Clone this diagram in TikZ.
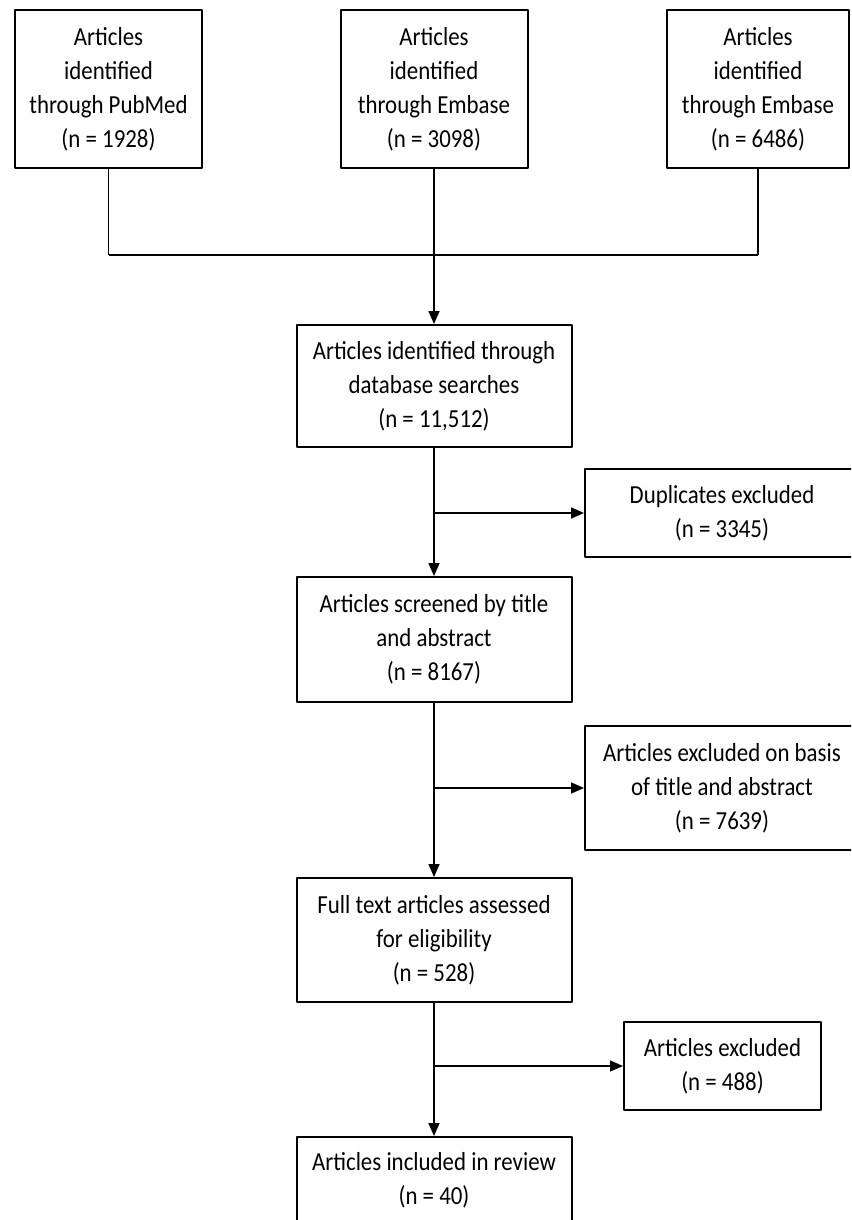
\documentclass[tikz,border=0pt]{standalone}
\usepackage{fontspec}
\setmainfont[FakeStretch=0.88]{Carlito}
\usetikzlibrary{arrows.meta}
\begin{document}
\begin{tikzpicture}[x=0.5pt,y=-0.5pt,line join=round,>={Triangle[length=6.5pt,width=5.5pt]},
	box/.style={draw,line width=1pt,align=center,inner sep=0pt,font=\fontsize{13}{17}\selectfont},
	src/.style={box,minimum width=93.5pt,minimum height=79pt},
	main/.style={box,minimum width=137.5pt,minimum height=62pt},
	side/.style={box,minimum width=137pt,minimum height=44pt},
	link/.style={line width=0.8pt}]
	\useasboundingbox (0,0) rectangle (851,1220);
	\clip (0,0) rectangle (851,1220);
	% sources
	\node[src] (pubmed) at (108.5,89) {Articles\\identified\\through PubMed\\(n = 1928)};
	\node[src] (embase) at (434,89) {Articles\\identified\\through Embase\\(n = 3098)};
	\node[src,minimum width=91pt] (embase2) at (758,89) {Articles\\identified\\through Embase\\(n = 6486)};
	% main column
	\node[main,minimum height=61pt] (ident) at (434,386) {Articles identified through\\database searches\\(n = 11,512)};
	\node[main,minimum height=62.5pt] (screen) at (434,639.5) {Articles screened by title\\and abstract\\(n = 8167)};
	\node[main] (fulltext) at (434,940) {Full text articles assessed\\for eligibility\\(n = 528)};
	\node[main,minimum height=43pt] (review) at (434,1180) {Articles included in review\\(n = 40)};
	% exclusions
	\node[side] (dupl) at (722,513) {Duplicates excluded\\(n = 3345)};
	\node[side,minimum height=62pt] (excl) at (722,788) {Articles excluded on basis\\of title and abstract\\(n = 7639)};
	\node[side,minimum width=98.5pt] (excl2) at (722.5,1066) {Articles excluded\\(n = 488)};
	% connectors
	\coordinate (hub) at (434,255);
	\draw[link] (pubmed.south) -- (pubmed.south |- hub);
	\draw[link] (embase2.south) -- (embase2.south |- hub);
	\draw[link,line width=1.2pt] (pubmed.south |- hub) -- (embase2.south |- hub);
	\draw[link] (embase.south) -- (hub);
	\draw[link,->] (hub) -- (ident.north);
	\draw[link,->] (ident) -- (screen);
	\draw[link,->] (ident.south |- dupl.west) -- (dupl.west);
	\draw[link,->] (screen) -- (fulltext);
	\draw[link,->] (screen.south |- excl.west) -- (excl.west);
	\draw[link,->] (fulltext) -- (review);
	\draw[link,->] (fulltext.south |- excl2.west) -- (excl2.west);
\end{tikzpicture}
\end{document}
